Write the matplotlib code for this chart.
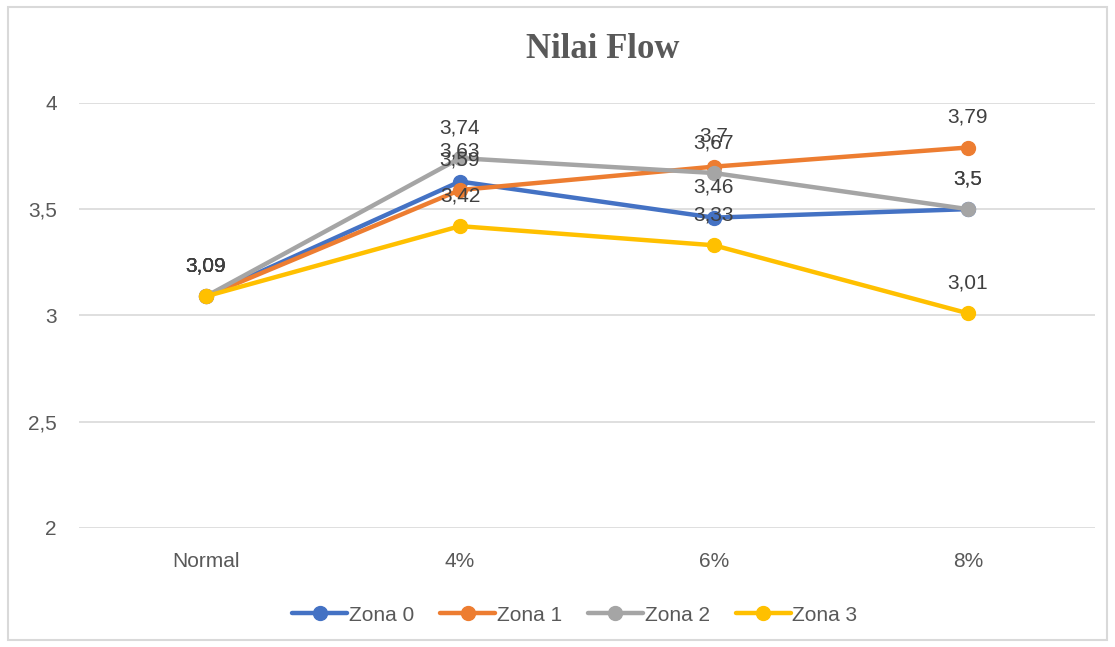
import numpy as np
import matplotlib.pyplot as plt
from matplotlib.patches import Rectangle

# data
categories = ["Normal", "4%", "6%", "8%"]
zona0 = [3.09, 3.63, 3.46, 3.5]
zona1 = [3.09, 3.59, 3.7, 3.79]
zona2 = [3.09, 3.74, 3.67, 3.5]
zona3 = [3.09, 3.42, 3.33, 3.01]
series = {"Zona 0": zona0, "Zona 1": zona1, "Zona 2": zona2, "Zona 3": zona3}
colors = ["#4472C4", "#ED7D31", "#A5A5A5", "#FFC000"]
yticks = [2, 2.5, 3, 3.5, 4]

plt.rcParams['font.family'] = ['Liberation Sans', 'DejaVu Sans']
fig = plt.figure(figsize=(11.15, 6.47), dpi=100)
ax = fig.add_axes([0.0709, 0.184, 0.911, 0.657])

# outer chart border
fig.patches.append(Rectangle((8/1115, 1-640/647), 1099/1115, 633/647,
                             transform=fig.transFigure, fill=False,
                             edgecolor="#D9D9D9", linewidth=1.5))

x = np.arange(len(categories))
for (name, vals), c in zip(series.items(), colors):
    ax.plot(x, vals, color=c, linewidth=3.2, marker="o", markersize=10,
            label=name, solid_capstyle="round")
    for xi, v in zip(x, vals):
        lab = ("%g" % v).replace(".", ",")
        ax.annotate(lab, (xi, v), xytext=(0, 15), textcoords="offset points",
                    ha="center", va="bottom", fontsize=15, color="#404040")

ax.set_xlim(-0.5, len(categories) - 0.5)
ax.set_ylim(2, 4)
ax.set_yticks(yticks)
ax.set_yticklabels([("%g" % t).replace(".", ",") for t in yticks])
ax.set_xticks(x)
ax.set_xticklabels(categories)
ax.tick_params(length=0, labelsize=15, labelcolor="#595959")
ax.tick_params(axis="x", pad=17)
ax.tick_params(axis="y", pad=16)
ax.grid(axis="y", color="#D9D9D9", linewidth=1.2)
ax.set_axisbelow(True)
for s in ax.spines.values():
    s.set_visible(False)

fig.text(0.541, 0.924, "Nilai Flow", ha="center", va="center",
         fontsize=25, fontweight="bold", family="Liberation Serif", color="#595959")

ax.legend(loc="center", bbox_to_anchor=(0.488, -0.205), ncol=4, frameon=False,
          fontsize=15, labelcolor="#595959", handlelength=2.64,
          handletextpad=0.08, columnspacing=1.25)

fig.savefig("out.png", dpi=100)
